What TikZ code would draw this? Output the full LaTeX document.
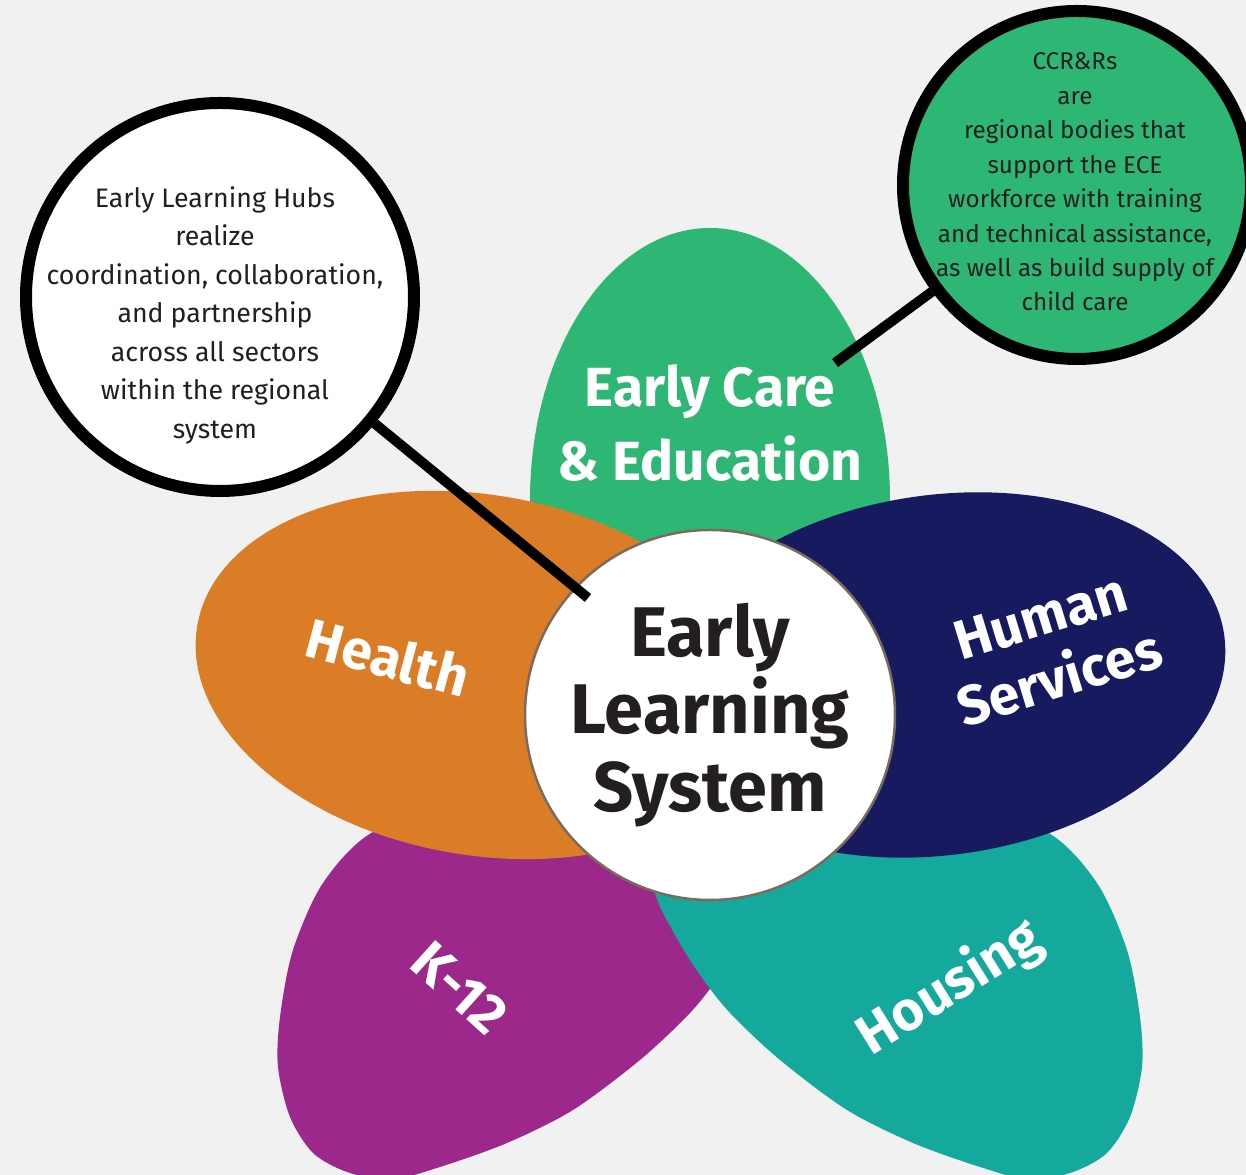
\documentclass[tikz,border=0pt]{standalone}
\usepackage{fontspec}
\setmainfont{Fira Sans}
\usepackage{tikz}
\usepackage{xcolor}

\definecolor{bggray}{HTML}{F1F1F1}
\definecolor{ecegreen}{HTML}{2EB774}
\definecolor{healthorange}{HTML}{DB7D27}
\definecolor{hsnavy}{HTML}{171A5F}
\definecolor{kpurple}{HTML}{9C288C}
\definecolor{housingteal}{HTML}{15A99D}
\definecolor{rimgray}{HTML}{7B6B5D}
\definecolor{inkdark}{HTML}{231F20}

\begin{document}
\begin{tikzpicture}[
  petal/.style={draw=none},
  petallabel/.style={text=white, font=\bfseries\fontsize{15.7}{20.8}\selectfont,
                     align=center, inner sep=0pt},
  callout/.style={circle, draw=black, line width=0.12cm, inner sep=0pt},
  note/.style={text=inkdark, align=center, inner sep=0pt},
  lead/.style={line width=0.10cm, black}
]
  \useasboundingbox (0,0) rectangle (12.46,11.75);
  \clip (0,0) rectangle (12.46,11.75);
  \fill[bggray] (0,0) rectangle (12.46,11.75);

  % petals, back to front
  \fill[petal, ecegreen] (7.10,6.75) ellipse [x radius=1.80, y radius=2.72];
  \fill[petal, kpurple] plot[smooth cycle] coordinates {
    (3.73,3.43) (3.23,2.92) (2.93,2.25) (2.80,1.58) (2.78,1.08) (2.90,0.58)
    (3.13,0.22) (3.47,0.03) (3.90,-0.05) (4.40,0.08) (5.07,0.32) (5.73,0.65)
    (6.40,1.15) (6.90,1.62) (7.20,2.00) (7.45,2.40) (7.65,2.82) (7.70,3.35)
    (7.20,3.85) (6.00,3.85) (4.70,3.75)};
  \fill[petal, housingteal] plot[smooth cycle] coordinates {
    (10.47,3.43) (10.97,2.92) (11.27,2.25) (11.40,1.58) (11.42,1.08) (11.30,0.58)
    (11.07,0.22) (10.73,0.03) (10.30,-0.05) (9.80,0.08) (9.13,0.32) (8.47,0.65)
    (7.80,1.15) (7.30,1.62) (7.00,2.00) (6.75,2.40) (6.55,2.82) (6.50,3.35)
    (7.00,3.85) (8.20,3.85) (9.50,3.75)};
  \fill[petal, healthorange, rotate around={-10:(4.80,5.00)}]
    (4.80,5.00) ellipse [x radius=2.87, y radius=1.80];
  \fill[petal, hsnavy, rotate around={8:(9.40,5.00)}]
    (9.40,5.00) ellipse [x radius=2.87, y radius=1.80];

  \node[petallabel] (ecelabel) at (7.10,7.52) {Early Care\\\& Education};
  \node[petallabel, rotate=-15] (healthlabel) at (3.88,5.18) {Health};
  \node[petallabel, rotate=17, font=\bfseries\fontsize{15.7}{18.3}\selectfont]
    (hslabel) at (10.50,5.27) {Human\\Services};
  \node[petallabel, rotate=-42] (klabel) at (4.60,1.87) {K-12};
  \node[petallabel, rotate=32] (housinglabel) at (9.50,1.87) {Housing};

  \node[circle, draw=rimgray, line width=0.025cm, fill=white, minimum size=3.70cm,
        inner sep=0pt, text=inkdark, align=center,
        font=\bfseries\fontsize{20}{22}\selectfont] (els) at (7.10,4.60)
        {Early\\Learning\\System};

  % callouts
  \node[callout, fill=white, minimum size=3.88cm] (hubs) at (2.20,8.78) {};
  \node[note, font=\fontsize{7.6}{10.95}\selectfont] (hubstext) at (2.15,8.60)
    {Early Learning Hubs\\realize\\coordination, collaboration,\\and partnership\\
     across all sectors\\within the regional\\system};
  \node[callout, fill=ecegreen, minimum size=3.48cm] (ccrr) at (10.77,9.90) {};
  \node[note, font=\fontsize{6.9}{9.8}\selectfont] (ccrrtext) at (10.75,9.93)
    {CCR\&Rs\\are\\regional bodies that\\support the ECE\\workforce with training\\
     and technical assistance,\\as well as build supply of\\child care};

  \coordinate (hubsend) at (5.88,5.77);
  \coordinate (ccrrend) at (8.35,8.12);
  \draw[lead] (hubs) -- (hubsend);
  \draw[lead] (ccrr) -- (ccrrend);
\end{tikzpicture}
\end{document}
